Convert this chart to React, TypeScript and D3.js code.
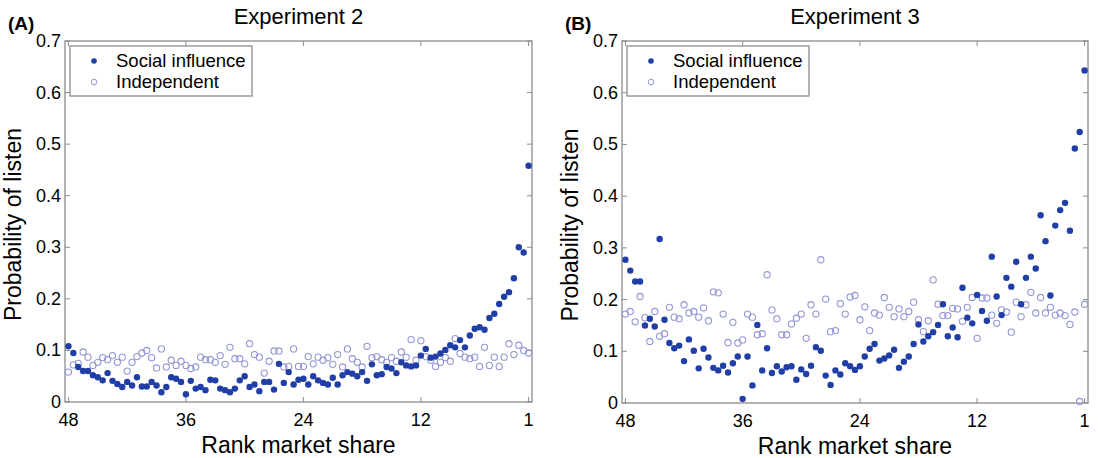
import React from "react";
import * as d3 from "d3";

// Rank grid: 48 → 1 in half-rank steps (95 points per series)
const ranks: number[] = d3.range(48, 0.75, -0.5);

const xTicks = [48, 36, 24, 12, 1];
const yTicks = [0, 0.1, 0.2, 0.3, 0.4, 0.5, 0.6, 0.7];

// Experiment 2
const exp2Social = [
  0.108, 0.095, 0.068, 0.06, 0.06, 0.052, 0.048, 0.042, 0.056, 0.041, 0.035, 0.029, 0.039, 0.032, 0.048, 0.03,
  0.03, 0.039, 0.032, 0.019, 0.029, 0.048, 0.045, 0.039, 0.015, 0.041, 0.026, 0.029, 0.023, 0.043, 0.042, 0.026,
  0.023, 0.019, 0.026, 0.042, 0.05, 0.029, 0.034, 0.021, 0.039, 0.039, 0.024, 0.074, 0.037, 0.058, 0.034,
  0.043, 0.045, 0.034, 0.05, 0.042, 0.037, 0.034, 0.047, 0.034, 0.052, 0.058, 0.055, 0.05, 0.058, 0.041, 0.073,
  0.052, 0.054, 0.068, 0.065, 0.056, 0.077, 0.071, 0.069, 0.071, 0.09, 0.103, 0.086, 0.088, 0.094, 0.101, 0.11,
  0.106, 0.12, 0.106, 0.129, 0.142, 0.145, 0.14, 0.163, 0.171, 0.19, 0.204, 0.213, 0.24, 0.3, 0.29, 0.458,
];
const exp2Independent = [
  0.058, 0.072, 0.075, 0.097, 0.087, 0.071, 0.077, 0.086, 0.082, 0.09, 0.077, 0.087, 0.06, 0.077, 0.088, 0.095,
  0.1, 0.086, 0.066, 0.103, 0.068, 0.081, 0.071, 0.079, 0.071, 0.065, 0.068, 0.087, 0.082, 0.082, 0.077, 0.09,
  0.073, 0.106, 0.084, 0.084, 0.074, 0.113, 0.092, 0.087, 0.056, 0.079, 0.099, 0.099, 0.068, 0.069, 0.103,
  0.069, 0.069, 0.088, 0.074, 0.087, 0.081, 0.086, 0.073, 0.092, 0.068, 0.103, 0.084, 0.077, 0.068, 0.108, 0.086,
  0.088, 0.082, 0.077, 0.086, 0.079, 0.097, 0.087, 0.121, 0.081, 0.119, 0.088, 0.081, 0.069, 0.077, 0.086, 0.079,
  0.123, 0.094, 0.087, 0.084, 0.087, 0.069, 0.106, 0.071, 0.087, 0.069, 0.087, 0.113, 0.092, 0.11, 0.1, 0.095,
];

// Experiment 3
const exp3Social = [
  0.277, 0.256, 0.235, 0.235, 0.15, 0.163, 0.148, 0.317, 0.161, 0.116, 0.106, 0.111, 0.081, 0.123, 0.101, 0.067,
  0.105, 0.088, 0.068, 0.063, 0.072, 0.059, 0.077, 0.09, 0.008, 0.09, 0.034, 0.151, 0.063, 0.106, 0.058, 0.071,
  0.061, 0.069, 0.071, 0.045, 0.065, 0.056, 0.072, 0.108, 0.101, 0.053, 0.035, 0.063,
  0.055, 0.077, 0.071, 0.064, 0.071, 0.09, 0.105, 0.114, 0.082, 0.086, 0.092, 0.103, 0.068, 0.08, 0.09, 0.114,
  0.152, 0.119, 0.129, 0.137, 0.151, 0.191, 0.129, 0.146, 0.127, 0.223, 0.165, 0.154, 0.209, 0.178, 0.159, 0.283,
  0.206, 0.17, 0.242, 0.225, 0.273, 0.191, 0.242, 0.283, 0.26, 0.363, 0.313, 0.208, 0.343, 0.373, 0.387, 0.333,
  0.492, 0.524, 0.643,
];
const exp3Independent = [
  0.172, 0.177, 0.157, 0.206, 0.165, 0.119, 0.177, 0.129, 0.134, 0.185, 0.166, 0.163, 0.19, 0.174, 0.177, 0.166,
  0.184, 0.159, 0.215, 0.213, 0.172, 0.117, 0.156, 0.116, 0.122, 0.172, 0.166, 0.132, 0.134, 0.248, 0.18, 0.163,
  0.132, 0.132, 0.153, 0.164, 0.172, 0.125, 0.19, 0.172, 0.277, 0.201, 0.138, 0.14, 0.192, 0.172, 0.205,
  0.208, 0.161, 0.186, 0.14, 0.174, 0.17, 0.204, 0.185, 0.167, 0.182, 0.167, 0.177, 0.195, 0.161, 0.138, 0.159,
  0.238, 0.191, 0.169, 0.169, 0.183, 0.182, 0.158, 0.185, 0.204, 0.125, 0.203, 0.203, 0.17, 0.154, 0.18, 0.176,
  0.137, 0.195, 0.167, 0.19, 0.214, 0.174, 0.204, 0.174, 0.185, 0.17, 0.174, 0.169, 0.152, 0.176, 0.003, 0.191,
];

const seriesNames = ["Social influence", "Independent"];

const FONT = "'Liberation Sans', Arial, Helvetica, sans-serif";
const FILL = "#1f3ea6";
const OPEN = "#9296d4";
const AXIS = "#8c8c8c";

type PanelProps = {
  left: number;
  right: number;
  top: number;
  bottom: number;
  letter: string;
  title: string;
  social: number[];
  indep: number[];
};

function Panel({ left, right, top, bottom, letter, title, social, indep }: PanelProps) {
  const x = d3.scaleLinear().domain([48.35, 0.65]).range([left, right]);
  const y = d3.scaleLinear().domain([0, 0.7]).range([bottom, top]);
  const cx = (left + right) / 2;
  const fmt = (v: number) => (v === 0 ? "0" : d3.format(".1f")(v));
  const lx = left + 5;
  const ly = top + 5;
  return (
    <g fontFamily={FONT}>
      <text x={left - 57} y={30} fontSize={19} fontWeight="bold">{letter}</text>
      <text x={cx} y={24} fontSize={22} textAnchor="middle">{title}</text>
      <rect x={left} y={top} width={right - left} height={bottom - top} fill="white" stroke={AXIS} strokeWidth={1.3} />
      {xTicks.map((t) => (
        <g key={"xt" + t}>
          <line x1={x(t)} x2={x(t)} y1={bottom} y2={bottom - 5} stroke={AXIS} />
          <line x1={x(t)} x2={x(t)} y1={top} y2={top + 5} stroke={AXIS} />
          <text x={x(t)} y={bottom + 24} fontSize={18} textAnchor="middle">{t}</text>
        </g>
      ))}
      {yTicks.map((t) => (
        <g key={"yt" + t}>
          <line x1={left} x2={left + 5} y1={y(t)} y2={y(t)} stroke={AXIS} />
          <line x1={right} x2={right - 5} y1={y(t)} y2={y(t)} stroke={AXIS} />
          <text x={left - 4} y={y(t)} fontSize={18} textAnchor="end" dominantBaseline="central">{fmt(t)}</text>
        </g>
      ))}
      <text x={cx} y={bottom + 51} fontSize={23} textAnchor="middle">Rank market share</text>
      <text transform={`translate(${left - 44},${(top + bottom) / 2 + 3}) rotate(-90)`} fontSize={23} textAnchor="middle">
        Probability of listen
      </text>
      {indep.map((v, i) => (
        <circle key={"o" + i} cx={x(ranks[i])} cy={y(v)} r={3.1} fill="none" stroke={OPEN} strokeWidth={1.1} />
      ))}
      {social.map((v, i) => (
        <circle key={"f" + i} cx={x(ranks[i])} cy={y(v)} r={3.2} fill={FILL} />
      ))}
      <rect x={lx} y={ly} width={182} height={50} fill="white" stroke={AXIS} strokeWidth={1.3} />
      <circle cx={lx + 24} cy={ly + 15} r={2.8} fill={FILL} />
      <circle cx={lx + 24} cy={ly + 36} r={2.8} fill="none" stroke={OPEN} strokeWidth={1} />
      <text x={lx + 46} y={ly + 21} fontSize={18.5}>{seriesNames[0]}</text>
      <text x={lx + 46} y={ly + 42} fontSize={18.5}>{seriesNames[1]}</text>
    </g>
  );
}

export default function App() {
  return (
    <svg width={1098} height={458} style={{ position: "absolute", left: 0, top: 0, background: "white" }}>
      <Panel left={65} right={532} top={41} bottom={402} letter="(A)" title="Experiment 2" social={exp2Social} indep={exp2Independent} />
      <Panel left={622} right={1088} top={41} bottom={403} letter="(B)" title="Experiment 3" social={exp3Social} indep={exp3Independent} />
    </svg>
  );
}
